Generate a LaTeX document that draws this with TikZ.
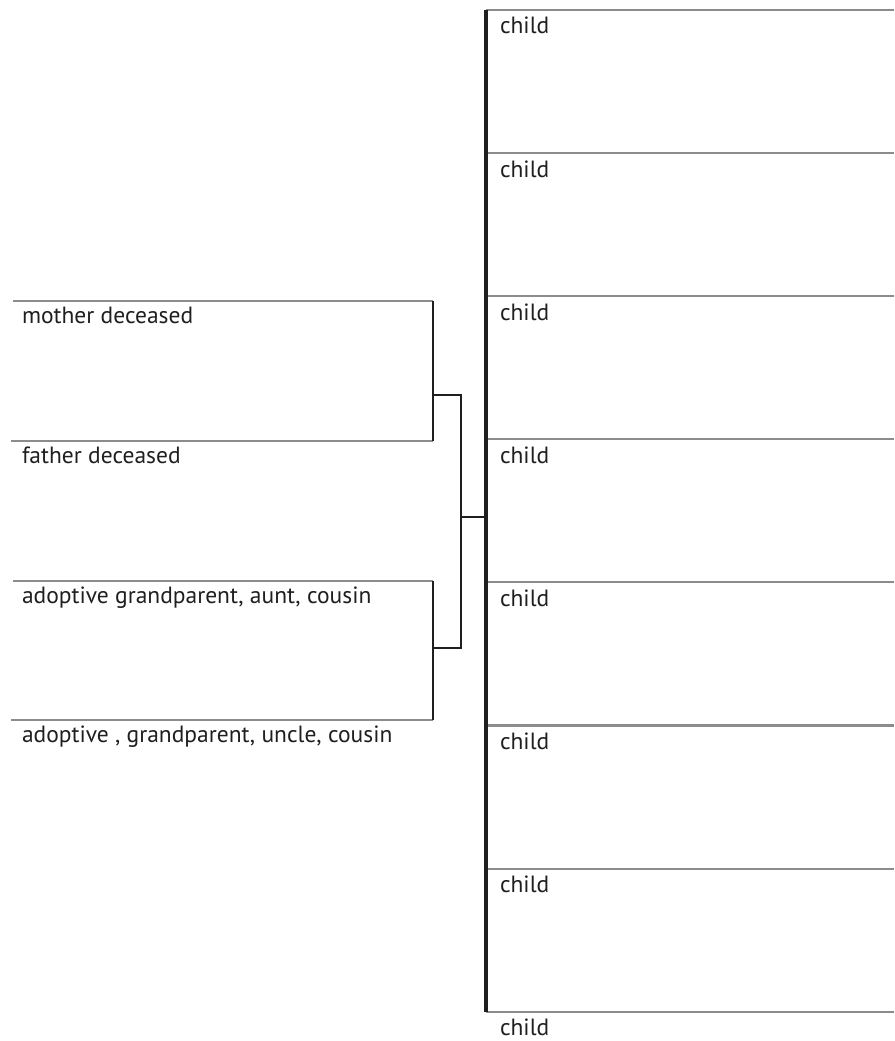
\documentclass[tikz,border=0pt]{standalone}
\usepackage{fontspec}
\setmainfont{PT Sans}
\begin{document}
\begin{tikzpicture}[x=1pt, y=-1pt,
		rule/.style={draw=black!45, line width=2.1pt},
		link/.style={draw=black!88, line width=2.8pt},
		spine/.style={draw=black!88, line width=3.4pt},
		tag/.style={anchor=base west, inner sep=0pt, outer sep=0pt, text=black!88, font=\fontsize{23.5}{27}\selectfont}]
		\useasboundingbox (0, 0) rectangle (894, 1041);
		% children on the right
		\foreach \i in {1,...,8} {
			\pgfmathsetmacro{\yy}{10 + 143.1*(\i-1)}
			\coordinate (c\i) at (486, \yy);
			\coordinate (e\i) at (894, \yy);
			\draw[rule] (c\i) -- (e\i);
			\node[tag] (ch\i) at (500, \yy + 24) {child};
		}
		\draw[spine] (c1) -- (c8);
		% parents
		\coordinate (m1) at (13, 301);
		\coordinate (m2) at (433, 301);
		\coordinate (f1) at (11, 441);
		\coordinate (f2) at (433, 441);
		\draw[rule] (m1) -- (m2);
		\draw[rule] (f1) -- (f2);
		\draw[link] (m2) -- (f2);
			\node[tag] (mother) at (22, 323) {mother deceased};
			\node[tag] (father) at (22, 463) {father deceased};
		% adoptive family
		\coordinate (a1) at (13, 581);
		\coordinate (a2) at (433, 581);
		\coordinate (u1) at (11, 720);
		\coordinate (u2) at (433, 720);
		\draw[rule] (a1) -- (a2);
		\draw[rule] (u1) -- (u2);
		\draw[link] (a2) -- (u2);
			\node[tag] (aunt) at (22, 603) {adoptive grandparent, aunt, cousin};
			\node[tag] (uncle) at (22, 742) {adoptive , grandparent, uncle, cousin};
		% joins
		\coordinate (j1) at (433, 395);
		\coordinate (k1) at (461, 395);
		\coordinate (j2) at (433, 648);
		\coordinate (k2) at (461, 648);
		\coordinate (k3) at (461, 517);
		\coordinate (s3) at (486, 517);
		\draw[link] (j1) -- (k1) -- (k2) -- (j2);
		\draw[link] (k3) -- (s3);
\end{tikzpicture}
\end{document}
